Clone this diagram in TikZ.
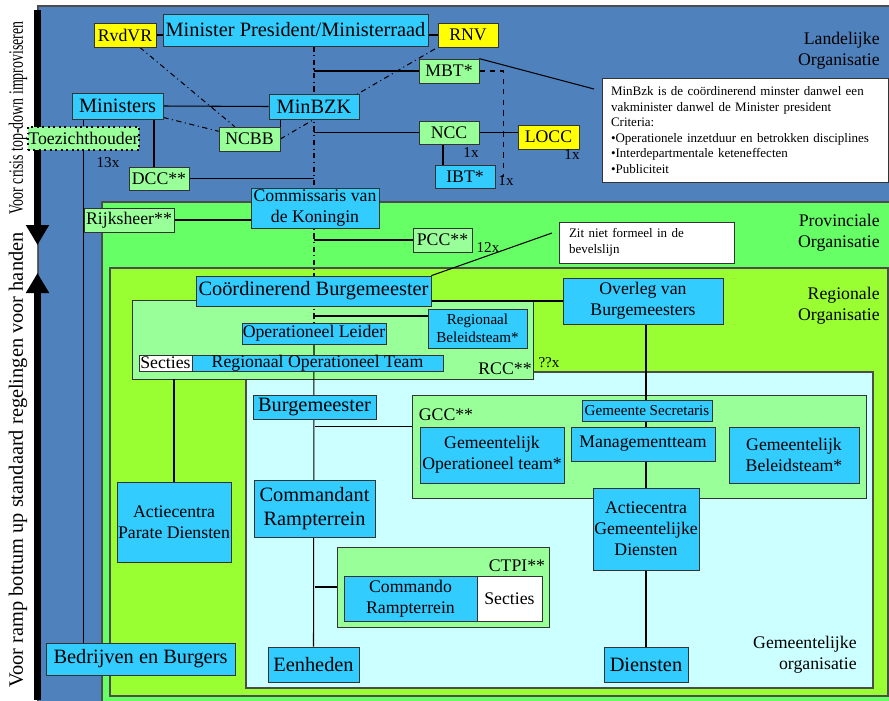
\documentclass[tikz,border=0pt]{standalone}
\usepackage{fontspec}
\setmainfont{Liberation Serif}
\usepackage{graphicx}
\usetikzlibrary{arrows.meta, backgrounds, positioning}

\definecolor{landblue}{HTML}{4F81BD}
\definecolor{provgreen}{HTML}{66FF66}
\definecolor{reggreen}{HTML}{99FF33}
\definecolor{gemcyan}{HTML}{CCFFFF}
\definecolor{boxcyan}{HTML}{33CCFF}
\definecolor{boxgreen}{HTML}{99FF99}
\definecolor{boxyellow}{HTML}{FFFF00}

\newlength{\pxu}
\setlength{\pxu}{0.02cm}
\newcommand{\txtbig}{\fontsize{11.6}{14}\selectfont}
\newcommand{\txtmid}{\fontsize{10.1}{12}\selectfont}
\newcommand{\txtsmall}{\fontsize{8.6}{10}\selectfont}
\newcommand{\txtnote}{\fontsize{7.4}{8.8}\selectfont}

\pgfdeclarelayer{edges}
\pgfsetlayers{background,edges,main}

\tikzstyle{orgbox} = [% bodies and officials
  rectangle,
  inner sep=0pt,
  align=center,
  font=\txtmid,
  draw=black!80,
  fill=boxcyan
]
\tikzstyle{advice} = [% staffs, centres and supervisors
  orgbox,
  fill=boxgreen
]
\tikzstyle{council} = [% councils
  orgbox,
  fill=boxyellow
]
\tikzstyle{section} = [% sections beside a team
  orgbox,
  fill=white
]
\tikzstyle{groupbox} = [% frame round a crisis centre
  rectangle,
  inner sep=0pt,
  draw=black!80,
  fill=boxgreen
]
\tikzstyle{note} = [% white explanation boxes
  rectangle,
  align=left,
  inner ysep=0pt,
  font=\txtnote,
  draw=black!80,
  fill=white
]
\tikzstyle{tier} = [% names of the levels
  anchor=east,
  align=right,
  inner sep=0pt,
  font=\txtmid
]
\tikzstyle{count} = [% numbers of centres
  inner sep=0pt,
  font=\txtsmall
]
\tikzstyle{region} = [% background of a level
  draw=black!70,
  semithick
]
\tikzstyle{link} = [% line of command
  draw=black,
  semithick
]
\tikzstyle{dashlink} = [% coordination line
  link,
  dash dot
]

\begin{document}
\begin{tikzpicture}[x=0.02cm, y=-0.02cm]
\useasboundingbox (0,0) rectangle (889,700);

%%% Levels
\begin{scope}[on background layer]
  \fill[white] (0,0) rectangle (889,700);
  \draw[region, fill=landblue] (38,6) rectangle (895,706);
  \draw[region, fill=provgreen] (102,202) rectangle (895,706);
  \draw[region, fill=reggreen] (110,268) rectangle (888,696);
  \draw[region, fill=gemcyan] (246,372) rectangle (873,688);

  \node[groupbox, minimum width=401\pxu, minimum height=79\pxu] (RCC) at (332.5,339.5) {};
  \node[groupbox, minimum width=454\pxu, minimum height=103\pxu] (GCC) at (639,446.5) {};
  \node[groupbox, minimum width=212\pxu, minimum height=80\pxu] (CTPI) at (443,587) {};
\end{scope}

%%% Side arrows
\draw[line width=7\pxu, -{Triangle[length=0.4cm, width=0.44cm]}] (37.5,10) -- (37.5,245);
\draw[line width=7\pxu, -{Triangle[length=0.4cm, width=0.44cm]}] (37.5,700) -- (37.5,273);
\draw[black!60, line width=1pt] (37.5,245) -- (37.5,273);
\node[rotate=90, inner sep=0pt, font=\txtbig] (TopDown) at (18,118)
  {\scalebox{0.68}[1]{Voor crisis top-down improviseren}};
\node[rotate=90, inner sep=0pt, font=\txtbig] (BottomUp) at (18,460)
  {Voor ramp bottum up standaard regelingen voor handen};

%%% Nodes
\node[council, minimum width=62\pxu, minimum height=24\pxu] (RvdVR) at (125,35) {RvdVR};
\node[orgbox, font=\txtbig, minimum width=265\pxu, minimum height=32\pxu] (MP) at (295.5,30) {Minister President/Ministerraad};
\node[council, minimum width=60\pxu, minimum height=24\pxu] (RNV) at (468,35) {RNV};
\node[advice, minimum width=60\pxu, minimum height=24\pxu] (MBT) at (449,71) {MBT*};
\node[orgbox, font=\txtbig, minimum width=91\pxu, minimum height=26\pxu] (Ministers) at (117.5,106) {Ministers};
\node[orgbox, font=\txtbig, minimum width=90\pxu, minimum height=25\pxu] (MinBZK) at (314,106.5) {MinBZK};
\node[advice, draw=black, dotted, line width=1.1pt, minimum width=111\pxu, minimum height=23\pxu] (Toez) at (83.5,138.5) {Toezichthouder};
\node[advice, minimum width=61\pxu, minimum height=24\pxu] (NCBB) at (249.5,139) {NCBB};
\node[advice, minimum width=60\pxu, minimum height=23\pxu] (NCC) at (449,132.5) {NCC};
\node[council, minimum width=61\pxu, minimum height=24\pxu] (LOCC) at (548.5,137) {LOCC};
\node[orgbox, minimum width=60\pxu, minimum height=23\pxu] (IBT) at (465,176.5) {IBT*};
\node[advice, minimum width=60\pxu, minimum height=23\pxu] (DCC) at (159,178.5) {DCC**};
\node[orgbox, minimum width=128\pxu, minimum height=40\pxu] (CvdK) at (315,208) {Commissaris van\\de Koningin};
\node[advice, minimum width=90\pxu, minimum height=24\pxu] (Rijksheer) at (129,220) {Rijksheer**};
\node[advice, minimum width=59\pxu, minimum height=24\pxu] (PCC) at (442.5,240) {PCC**};

\node[note, text width=268\pxu, inner xsep=9\pxu, minimum height=104\pxu] (Note) at (745,130)
  {MinBzk is de coördinerend minster danwel een\\
   vakminister danwel de Minister president\\
   Criteria:\\
   •Operationele inzetduur en betrokken disciplines\\
   •Interdepartmentale keteneffecten\\
   •Publiciteit};
\node[note, text width=155\pxu, inner xsep=10\pxu, minimum height=41\pxu] (Zit) at (646.5,242.5)
  {Zit niet formeel in de\\bevelslijn};

\node[orgbox, font=\txtbig, minimum width=235\pxu, minimum height=30\pxu] (CB) at (313.5,291) {Coördinerend Burgemeester};
\node[orgbox, minimum width=160\pxu, minimum height=46\pxu] (OvB) at (643,301) {Overleg van\\Burgemeesters};
\node[orgbox, minimum width=144\pxu, minimum height=21\pxu] (OL) at (314,333.5) {Operationeel Leider};
\node[orgbox, font=\txtsmall, minimum width=99\pxu, minimum height=39\pxu] (RBT) at (477.5,328.5) {Regionaal\\Beleidsteam*};
\node[orgbox, minimum width=251\pxu, minimum height=16\pxu] (ROT) at (317.5,363) {Regionaal Operationeel Team};
\node[section, minimum width=53\pxu, minimum height=16\pxu] (RCCSecties) at (165.5,363) {Secties};
\node[inner sep=1pt, fill=boxgreen, font=\txtmid] (RCCLabel) at (505,369) {RCC**};
\node[count] (RCCCount) at (549,363) {??x};

\node[orgbox, font=\txtbig, minimum width=123\pxu, minimum height=24\pxu] (Burg) at (314.5,407) {Burgemeester};
\node[inner sep=0pt, font=\txtmid] (GCCLabel) at (446,415) {GCC**};
\node[orgbox, font=\txtsmall, minimum width=130\pxu, minimum height=21\pxu] (GS) at (647,410.5) {Gemeente Secretaris};
\node[orgbox, minimum width=144\pxu, minimum height=56\pxu] (GOT) at (492,455) {Gemeentelijk\\Operationeel team*};
\node[orgbox, minimum width=144\pxu, minimum height=34\pxu] (MT) at (643,444) {Managementteam};
\node[orgbox, minimum width=130\pxu, minimum height=56\pxu] (GBT) at (794,455) {Gemeentelijk\\Beleidsteam*};
\node[orgbox, minimum width=106\pxu, minimum height=82\pxu] (ACGD) at (646,529) {Actiecentra\\Gemeentelijke\\Diensten};

\node[orgbox, font=\txtbig, minimum width=121\pxu, minimum height=57\pxu] (CR) at (314.5,508.5) {Commandant\\Rampterrein};
\node[orgbox, minimum width=114\pxu, minimum height=80\pxu] (APD) at (174,522) {Actiecentra\\Parate Diensten};
\node[inner sep=0pt, font=\txtmid] (CTPILabel) at (517,566) {CTPI**};
\node[orgbox, minimum width=133\pxu, minimum height=45\pxu] (CMR) at (410.5,598.5) {Commando\\Rampterrein};
\node[section, minimum width=65\pxu, minimum height=45\pxu] (CTPISecties) at (509.5,598.5) {Secties};

\node[orgbox, font=\txtbig, minimum width=91\pxu, minimum height=35\pxu] (Eenheden) at (313.5,664.5) {Eenheden};
\node[orgbox, font=\txtbig, minimum width=84\pxu, minimum height=35\pxu] (Diensten) at (646,664.5) {Diensten};
\node[orgbox, font=\txtbig, minimum width=189\pxu, minimum height=32\pxu] (BB) at (140.5,659) {Bedrijven en Burgers};

%%% Level names and counts
\node[tier] (LblLand) at (880,51) {Landelijke\\Organisatie};
\node[tier] (LblProv) at (880,233) {Provinciale\\Organisatie};
\node[tier] (LblReg) at (880,306) {Regionale\\Organisatie};
\node[tier] (LblGem) at (857,654.5) {Gemeentelijke\\organisatie};
\node[count] (Count13) at (108,163) {13x};
\node[count] (CountNCC) at (471,153) {1x};
\node[count] (CountLOCC) at (572,155) {1x};
\node[count] (CountIBT) at (506,181) {1x};
\node[count] (Count12) at (488,247) {12x};

\coordinate (NoteTip) at (594,89);
\coordinate (ZitTip) at (552,233);

%%% Arrows
\begin{pgfonlayer}{edges}
  \draw[link] (RvdVR) -- (RvdVR -| MP.west);
  \draw[link] (RNV.west) -- (RNV.west -| MP.east);
  \draw[link] (Ministers.east) -- (MinBZK.west);
  \draw[dashlink] (MP.south -| MinBZK.north) -- (OL.north);
  \draw[link] (MBT.west) -- (MBT.west -| MinBZK.north);
  \draw[link] (NCC.west) -- (NCC.west -| MinBZK.north);
  \draw[link] (NCC.east) -- (NCC.east -| LOCC.west);
  \draw[link] ([xshift=-6\pxu]NCC.south) -- ([xshift=-6\pxu]NCC.south |- IBT.north);
  \draw[link, dashed] (MBT.east) -- ++(24,0) |- (IBT.east);
  \draw[link] (MBT.north east) -- (NoteTip);
  \draw[link] (DCC.east) -- (DCC.east -| MinBZK.south);
  \draw[link] ([xshift=-5\pxu]DCC.north) -- ([xshift=-5\pxu]DCC.north |- Ministers.south);
  \draw[link] (Ministers.south -| Toez.north) -- (Toez.north);
  \draw[link] (Toez.south) -- (Toez.south |- BB.north);
  \draw[dashlink] (RvdVR) -- (NCBB);
  \draw[dashlink] (Ministers) -- (NCBB);
  \draw[dashlink] (NCBB.east) -- (RNV.south west);
  \draw[link, thick] (NCBB.north east) -- (NCBB.north east |- MinBZK.south);
  \draw[link] (Rijksheer.east) -- (Rijksheer.east -| CvdK.west);
  \draw[link] (PCC.west) -- (PCC.west -| OL.north);
  \draw[link] (CB.north east) -- (ZitTip);
  \draw[link] (OvB.west) -- (OvB.west -| CB.east);
  \draw[link] ([yshift=12.5\pxu]RBT.west) -- ([yshift=12.5\pxu]RBT.west -| OL.north);
  \draw[link] (OL.south) -- (Eenheden.north);
  \draw[link] (GCC.west |- GOT.north) -- (Burg.south |- GOT.north);
  \draw[link] (CTPI.west) -- (CTPI.west -| CR.south);
  \draw[link] (APD.north) -- (APD.north |- RCC.south);
  \draw[link] (OvB.south -| Diensten.north) -- (Diensten.north);
\end{pgfonlayer}

\end{tikzpicture}
\end{document}
